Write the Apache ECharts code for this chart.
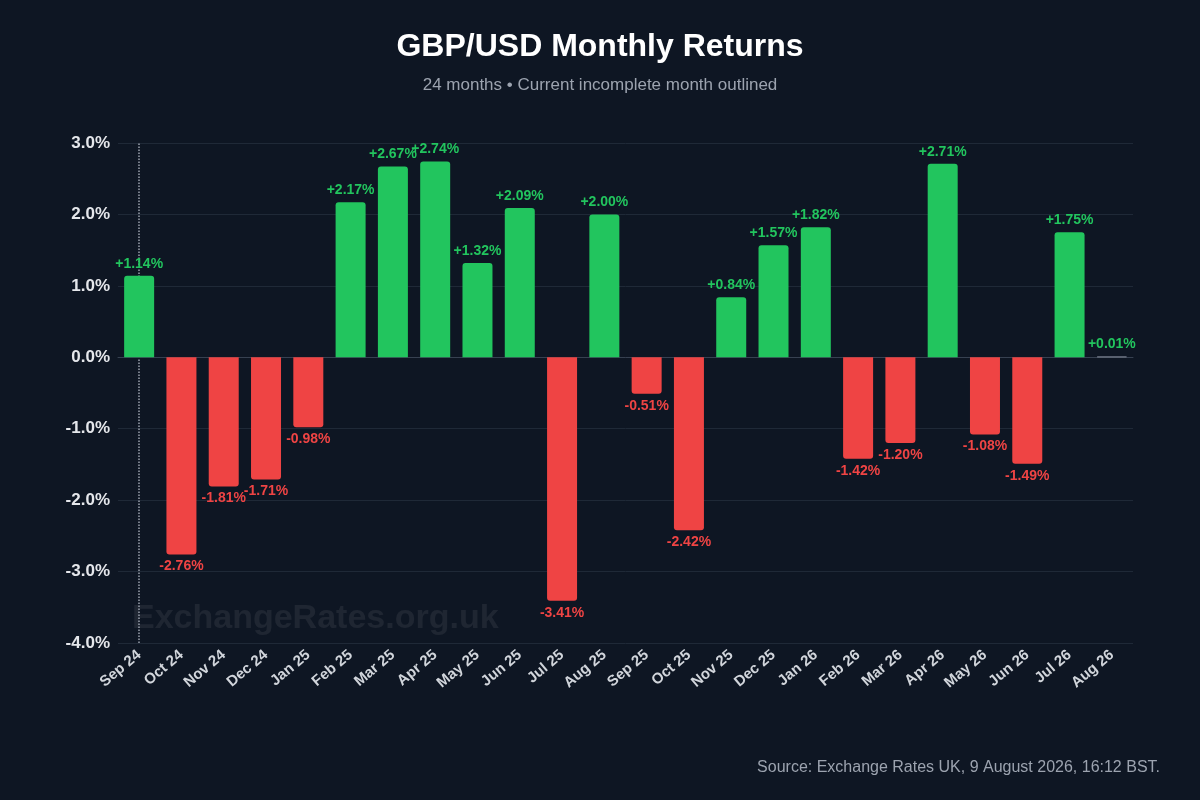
<!DOCTYPE html>
<html><head><meta charset="utf-8">
<script src="https://cdn.jsdelivr.net/npm/echarts@6/dist/echarts.min.js"></script>
<style>html,body{margin:0;background:#0e1623}#c{width:1200px;height:800px}</style>
</head><body><div id="c"></div>
<script>
const categories=['Sep 24','Oct 24','Nov 24','Dec 24','Jan 25','Feb 25','Mar 25','Apr 25','May 25','Jun 25','Jul 25','Aug 25','Sep 25','Oct 25','Nov 25','Dec 25','Jan 26','Feb 26','Mar 26','Apr 26','May 26','Jun 26','Jul 26','Aug 26'];
const returns=[1.14,-2.76,-1.81,-1.71,-0.98,2.17,2.67,2.74,1.32,2.09,-3.41,2.00,-0.51,-2.42,0.84,1.57,1.82,-1.42,-1.20,2.71,-1.08,-1.49,1.75,0.01];
const yTicks=[-4,-3,-2,-1,0,1,2,3];
const G='#22c55e',R='#ef4444';
const chart=echarts.init(document.getElementById('c'));
chart.setOption({
 backgroundColor:'#0e1623',
 title:{text:'GBP/USD Monthly Returns',subtext:'24 months • Current incomplete month outlined',left:'center',top:26,
  textStyle:{color:'#fff',fontSize:32,fontWeight:'bold',fontFamily:'Liberation Sans'},
  subtextStyle:{color:'#9ca3af',fontSize:17,fontFamily:'Liberation Sans'},itemGap:14},
 graphic:[
  {type:'text',left:132,top:602,style:{text:'ExchangeRates.org.uk',fill:'rgba(255,255,255,0.07)',font:'bold 34px Liberation Sans'}},
  {type:'text',right:40,top:760,style:{text:'Source: Exchange Rates UK, 9 August 2026, 16:12 BST.',fill:'#9ca3af',font:'16px Liberation Sans'}}
 ],
 grid:{left:118,right:67,top:143,bottom:157},
 xAxis:{type:'category',data:categories,axisTick:{show:false},
  axisLine:{lineStyle:{color:'#374151'}},
  axisLabel:{color:'#d1d5db',fontSize:15,fontWeight:'bold',rotate:40,interval:0,fontFamily:'Liberation Sans',margin:10}},
 yAxis:{type:'value',min:-4,max:3,interval:1,
  axisLabel:{color:'#e5e7eb',fontSize:17,fontWeight:'bold',fontFamily:'Liberation Sans',formatter:v=>v.toFixed(1)+'%'},
  splitLine:{lineStyle:{color:'#1f2937'}},axisLine:{show:false}},
 series:[{type:'bar',barWidth:30,
  data:returns.map((v,i)=>({value:v,
   itemStyle: i===returns.length-1?{color:G,borderColor:'#6b7280',borderWidth:1,borderRadius:2}:{color:v>=0?G:R,borderRadius:v>=0?[3,3,0,0]:[0,0,3,3]},
   label:{show:true,position:v>=0?'top':'bottom',color:v>=0?G:R,fontSize:14,fontWeight:'bold',fontFamily:'Liberation Sans',
    formatter:(v>=0?'+':'')+v.toFixed(2)+'%'}})),
  markLine:{silent:true,symbol:'none',label:{show:false},z:0,
   lineStyle:{color:'#9ca3af',type:'dotted',width:1.5},data:[{xAxis:'Sep 24'}]}
 }]
});
</script></body></html>
